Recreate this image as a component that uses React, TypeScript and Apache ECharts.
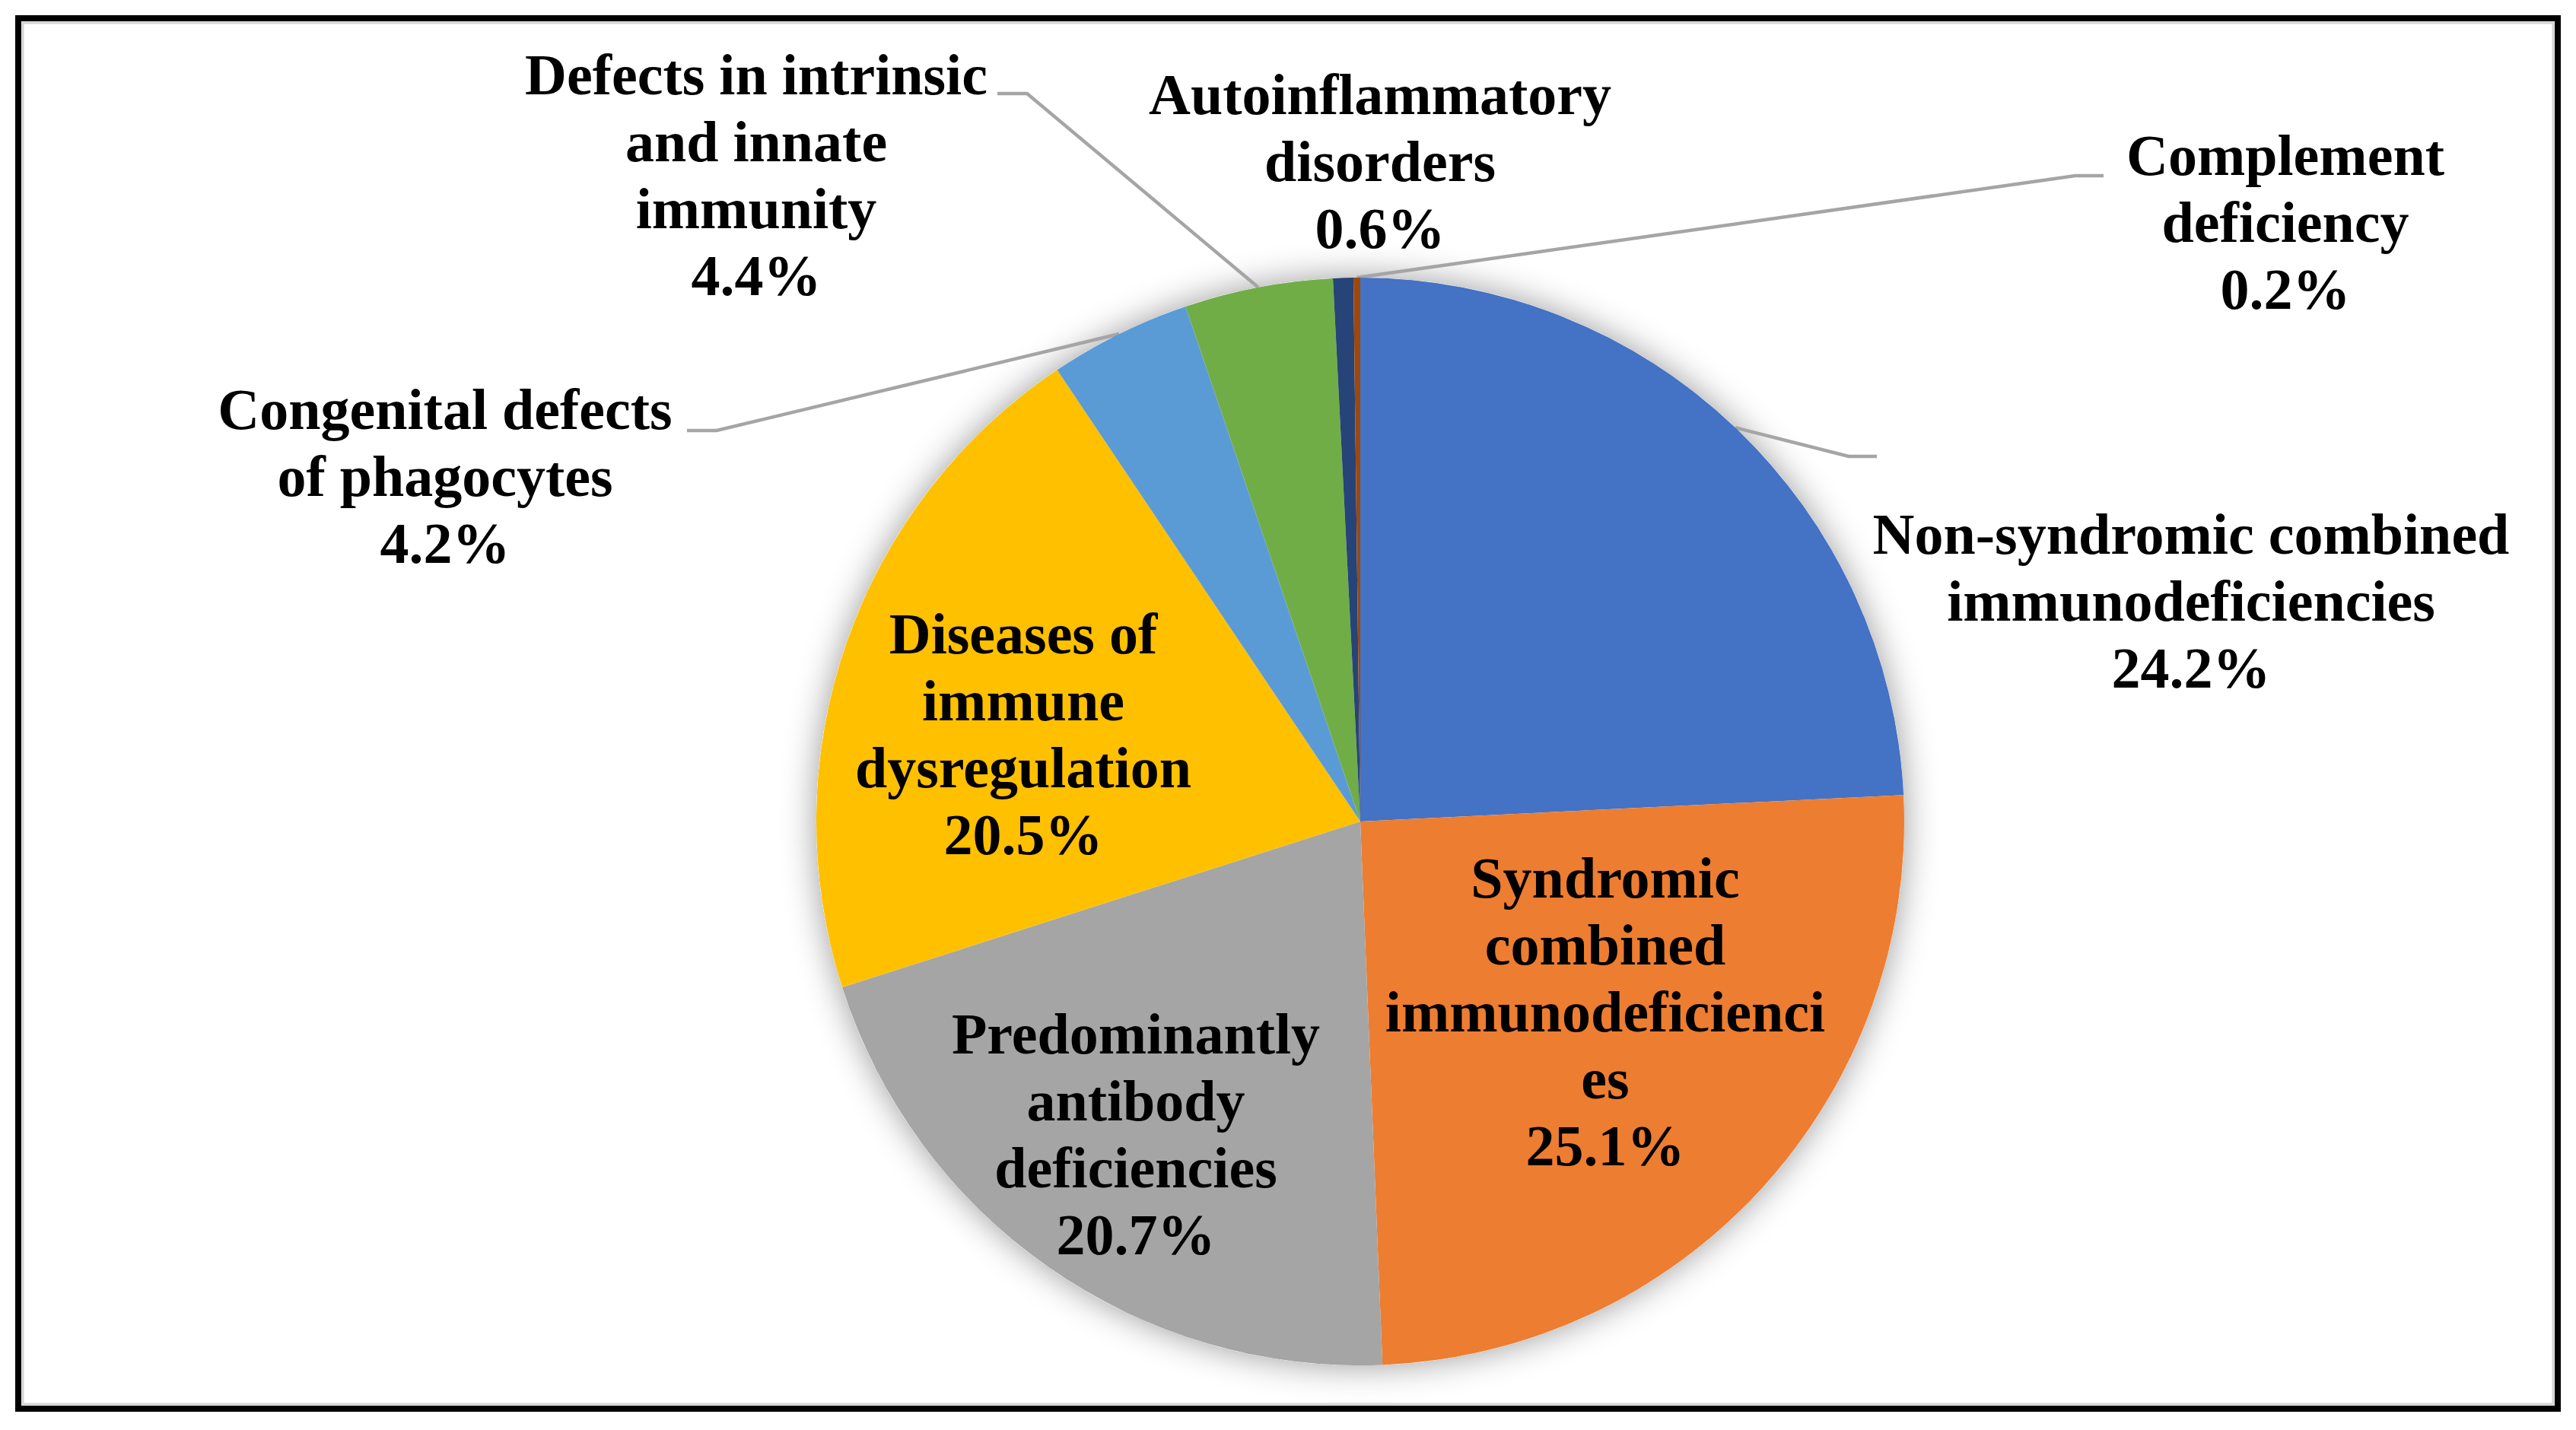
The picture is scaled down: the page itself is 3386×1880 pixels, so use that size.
import React, { useEffect, useRef } from "react";
import * as echarts from "echarts";

const categories = [
  "Non-syndromic combined immunodeficiencies",
  "Syndromic combined immunodeficiencies",
  "Predominantly antibody deficiencies",
  "Diseases of immune dysregulation",
  "Congenital defects of phagocytes",
  "Defects in intrinsic and innate immunity",
  "Autoinflammatory disorders",
  "Complement deficiency",
];
const labelTexts = [
  "Non-syndromic combined\nimmunodeficiencies",
  "Syndromic\ncombined\nimmunodeficienci\nes",
  "Predominantly\nantibody\ndeficiencies",
  "Diseases of\nimmune\ndysregulation",
  "Congenital defects\nof phagocytes",
  "Defects in intrinsic\nand innate\nimmunity",
  "Autoinflammatory\ndisorders",
  "Complement\ndeficiency",
];
const values = [24.2, 25.1, 20.7, 20.5, 4.2, 4.4, 0.6, 0.2];
const colors = ["#4472C4", "#ED7D31", "#A5A5A5", "#FFC000", "#5B9BD5", "#70AD47", "#264478", "#9E480E"];

// layout (not data)
const CX = 1788;
const CY = 1080;
const R = 715;
const labelCenters: number[][] = [
  [2880, 790], [2110, 1330], [1493, 1491], [1345, 965],
  [585, 626], [994, 230], [1814, 212], [3004, 292],
];
const leaderShow = [true, false, false, false, true, true, false, true];
const leaderElbow: (number[][] | null)[] = [
  [[2430, 600], [2467, 600]],
  null, null, null,
  [[942, 566], [903, 566]],
  [[1350, 123], [1311, 123]],
  null,
  [[2728, 231], [2765, 231]],
];

export default function App() {
  const ref = useRef<HTMLDivElement>(null);
  useEffect(() => {
    if (!ref.current) return;
    const chart = echarts.init(ref.current, null, { renderer: "svg" });
    const total = values.reduce((a, b) => a + b, 0);
    const midAngles: number[] = [];
    let acc = 0;
    values.forEach((v) => {
      midAngles.push(((acc + v / 2) / total) * Math.PI * 2);
      acc += v;
    });
    const textStyle = {
      fontFamily: "Liberation Serif, Times New Roman, serif",
      fontWeight: "bold" as const,
      fontSize: 76,
      lineHeight: 88,
      color: "#000",
    };
    chart.setOption({
      animation: false,
      backgroundColor: "#fff",
      graphic: [
        { type: "rect", shape: { x: 24, y: 24, width: 3338, height: 1828 }, style: { fill: "none", stroke: "#000", lineWidth: 8 }, silent: true },
        { type: "rect", shape: { x: 30, y: 30, width: 3326, height: 1816 }, style: { fill: "none", stroke: "#d4d4d4", lineWidth: 3 }, silent: true },
      ],
      series: [
        {
          type: "pie",
          silent: true,
          center: [CX, CY],
          radius: R,
          startAngle: 90,
          label: { show: false },
          labelLine: { show: false },
          itemStyle: { color: "#fff", shadowBlur: 45, shadowColor: "rgba(0,0,0,0.4)" },
          data: [{ value: 1, name: "bg" }],
          z: 1,
        },
        {
          type: "pie",
          center: [CX, CY],
          radius: R,
          startAngle: 90,
          clockwise: true,
          avoidLabelOverlap: false,
          z: 2,
          itemStyle: { borderWidth: 0 },
          label: {
            show: true,
            position: "outside",
            ...textStyle,
            align: "center",
            formatter: (p: any) => `${labelTexts[p.dataIndex]}\n${p.value.toFixed(1)}%`,
          },
          labelLine: { show: true, lineStyle: { color: "#A5A5A5", width: 4.5 } },
          labelLayout: (params: any) => {
            const i = params.dataIndex;
            const c = labelCenters[i];
            const res: any = { x: c[0], y: c[1], align: "center", verticalAlign: "middle" };
            const el = leaderElbow[i];
            if (el) {
              const a = midAngles[i];
              const sx = CX + R * Math.sin(a);
              const sy = CY - R * Math.cos(a);
              res.labelLinePoints = [[sx, sy], el[0], el[1]];
            }
            return res;
          },
          data: categories.map((name, i) => ({
            name,
            value: values[i],
            itemStyle: { color: colors[i] },
            labelLine: { show: leaderShow[i] },
          })),
        },
      ],
    });
    return () => chart.dispose();
  }, []);
  return (
    <div
      ref={ref}
      style={{ position: "fixed", left: 0, top: 0, width: "3386px", height: "1880px", background: "#fff" }}
    />
  );
}
